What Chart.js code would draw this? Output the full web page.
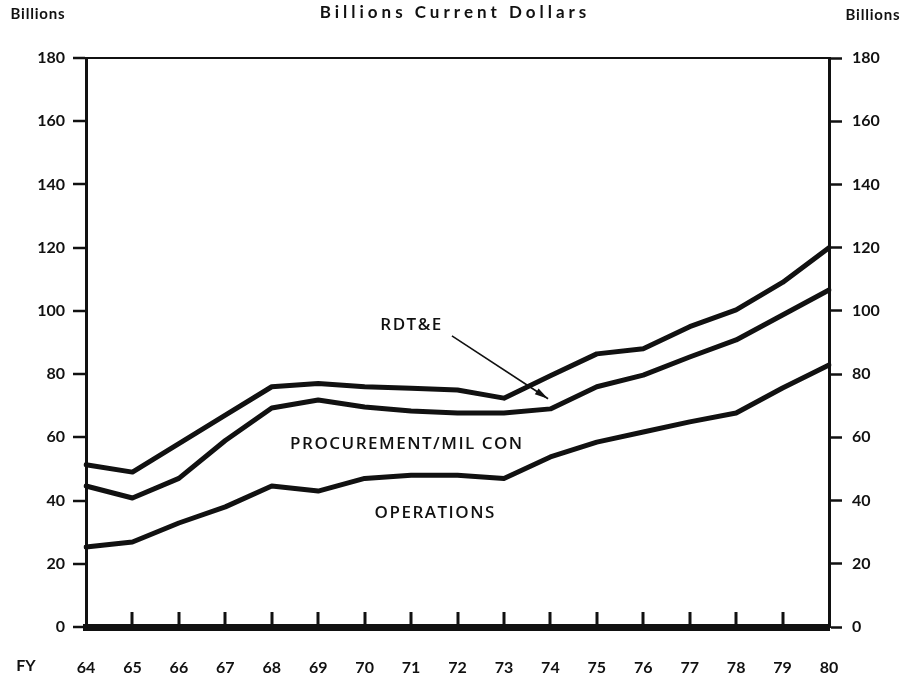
<!DOCTYPE html>
<html>
<head>
<meta charset="utf-8">
<script src="https://cdn.jsdelivr.net/npm/chart.js@4.4.1/dist/chart.umd.min.js"></script>
<style>
  html, body { margin: 0; padding: 0; background: #fff; }
  #wrap { width: 905px; height: 678px; position: relative; }
</style>
</head>
<body>
<div id="wrap"><canvas id="chart"></canvas></div>
<script>
// Fiscal years on the x axis
const years = ['64', '65', '66', '67', '68', '69', '70', '71', '72', '73', '74', '75', '76', '77', '78', '79', '80'];

// Stacked outlines (billions, current dollars)
const operations   = [25.3, 26.9, 32.9, 38.0, 44.6, 43.0, 47.0, 48.0, 48.0, 47.0, 53.8, 58.5, 61.7, 64.9, 67.7, 75.6, 82.9];
const procMilCon   = [44.6, 40.8, 47.0, 59.0, 69.3, 71.8, 69.6, 68.3, 67.7, 67.7, 69.0, 76.0, 79.7, 85.4, 90.8, 98.7, 106.6];
const totalRdte    = [51.3, 49.0, 58.0, 67.0, 76.0, 77.0, 76.0, 75.5, 75.0, 72.4, 79.5, 86.4, 88.0, 95.0, 100.3, 109.0, 120.0];

const yTicks = [0, 20, 40, 60, 80, 100, 120, 140, 160, 180];

const INK = '#111';
const tickFont = { family: 'Lato', size: 16, weight: 'bold' };

// extra drawing: title, side captions, labels, arrow, x tick marks
const decorations = {
    id: 'decorations',
    afterDatasetsDraw(chart) {
        const ctx = chart.ctx;
        const x = chart.scales.x;
        const y = chart.scales.y;
        const area = chart.chartArea;
        ctx.save();
        ctx.fillStyle = INK;
        ctx.strokeStyle = INK;

        // small upward tick marks on the baseline
        ctx.lineWidth = 3;
        for (let i = 1; i < years.length - 1; i++) {
            const px = Math.round(x.getPixelForValue(i));
            ctx.beginPath();
            ctx.moveTo(px, area.bottom);
            ctx.lineTo(px, area.bottom - 15);
            ctx.stroke();
        }

        // headings
        ctx.textBaseline = 'middle';
        ctx.textAlign = 'center';
        ctx.font = 'bold 17px Lato';
        ctx.letterSpacing = '4px';
        ctx.fillText('Billions Current Dollars', 455, 13);
        ctx.font = 'bold 15px Lato';
        ctx.letterSpacing = '0.8px';
        ctx.fillText('Billions', 38, 14);
        ctx.fillText('Billions', 873, 15);
        ctx.letterSpacing = '0px';
        ctx.font = 'bold 16px Lato';
        ctx.fillText('FY', 26, 666);

        // band labels
        ctx.font = '600 17px "Open Sans"';
        ctx.letterSpacing = '1.5px';
        ctx.fillText('RDT&E', x.getPixelForValue(7.01), y.getPixelForValue(95.5));
        ctx.fillText('PROCUREMENT/MIL CON', x.getPixelForValue(6.91), y.getPixelForValue(57.9));
        ctx.fillText('OPERATIONS', x.getPixelForValue(7.52), y.getPixelForValue(36.1));
        ctx.letterSpacing = '0px';

        // arrow from RDT&E label to the band
        const x1 = x.getPixelForValue(7.88), y1 = y.getPixelForValue(92.1);
        const x2 = x.getPixelForValue(9.95), y2 = y.getPixelForValue(72.2);
        ctx.lineWidth = 1.6;
        ctx.beginPath();
        ctx.moveTo(x1, y1);
        ctx.lineTo(x2, y2);
        ctx.stroke();
        const ang = Math.atan2(y2 - y1, x2 - x1);
        ctx.beginPath();
        ctx.moveTo(x2, y2);
        ctx.lineTo(x2 - 14 * Math.cos(ang - 0.25), y2 - 14 * Math.sin(ang - 0.25));
        ctx.lineTo(x2 - 14 * Math.cos(ang + 0.25), y2 - 14 * Math.sin(ang + 0.25));
        ctx.closePath();
        ctx.fill();
        ctx.restore();
    }
};

function lineSet(values) {
    return {
        data: values,
        borderColor: INK,
        borderWidth: 5,
        pointRadius: 0,
        tension: 0,
        fill: false,
        borderJoinStyle: 'round',
        borderCapStyle: 'round',
        yAxisID: 'y'
    };
}

new Chart(document.getElementById('chart'), {
    type: 'line',
    data: {
        labels: years,
        datasets: [lineSet(totalRdte), lineSet(procMilCon), lineSet(operations)]
    },
    options: {
        responsive: true,
        maintainAspectRatio: false,
        animation: false,
        layout: { padding: { top: 58 } },
        plugins: {
            legend: { display: false },
            tooltip: { enabled: false }
        },
        scales: {
            x: {
                grid: { display: false },
                border: { display: true, color: INK, width: 7 },
                ticks: { color: INK, font: tickFont, padding: 23, maxRotation: 0, autoSkip: false },
                afterFit(scale) { scale.height = 51; }
            },
            y: {
                position: 'left',
                min: 0,
                max: 180,
                afterBuildTicks(scale) { scale.ticks = yTicks.map(v => ({ value: v })); },
                grid: {
                    drawOnChartArea: true,
                    color: c => (c.tick && c.tick.value === 180 ? INK : 'rgba(0,0,0,0)'),
                    lineWidth: 2,
                    tickLength: 13,
                    tickColor: INK,
                    tickWidth: 2.5
                },
                border: { display: true, color: INK, width: 3 },
                ticks: { color: INK, font: tickFont, padding: 8 },
                afterFit(scale) { scale.width = 86; }
            },
            y2: {
                position: 'right',
                min: 0,
                max: 180,
                afterBuildTicks(scale) { scale.ticks = yTicks.map(v => ({ value: v })); },
                grid: {
                    drawOnChartArea: false,
                    tickLength: 13,
                    tickColor: INK,
                    tickWidth: 2.5
                },
                border: { display: true, color: INK, width: 3 },
                ticks: { color: INK, font: tickFont, padding: 10 },
                afterFit(scale) { scale.width = 76; }
            }
        }
    },
    plugins: [decorations]
});
</script>
</body>
</html>
